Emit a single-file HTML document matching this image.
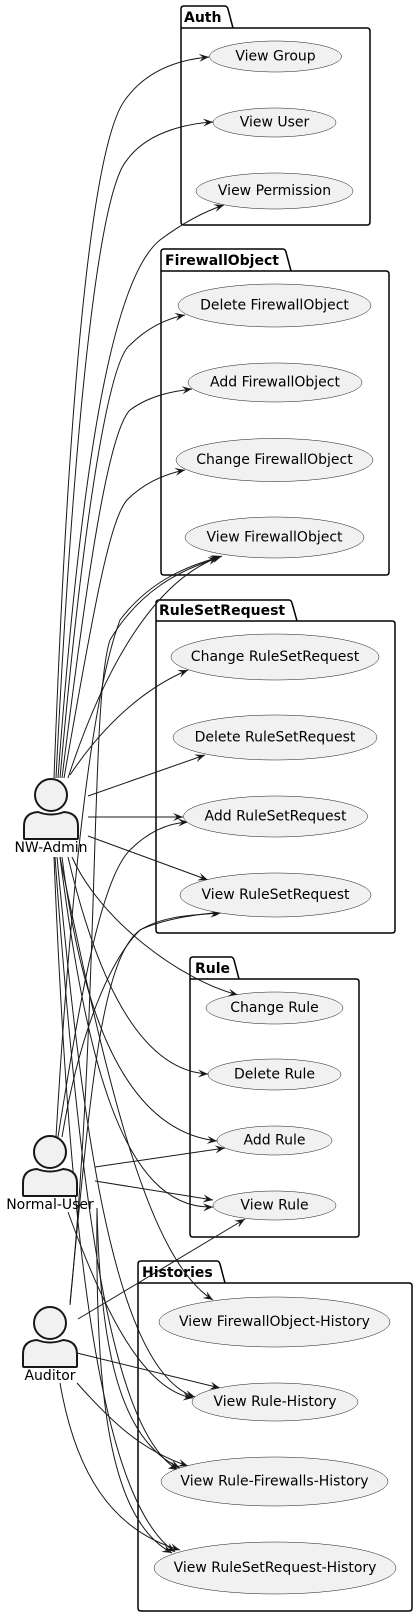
<!DOCTYPE html>
<html><head><meta charset="utf-8"><style>
html,body{margin:0;padding:0;background:#fff;}
svg{display:block;}
text{font-family:"DejaVu Sans","Liberation Sans",sans-serif;fill:#000;}
.uc{fill:#f1f1f1;stroke:#181818;stroke-width:0.5;}
.lbl{font-size:14px;text-anchor:middle;dominant-baseline:central;}
.pk{fill:none;stroke:#000;stroke-width:1.5;}
.pt{font-size:14px;font-weight:bold;}
.e{fill:none;stroke:#181818;stroke-width:1;marker-end:url(#a);}
.act{fill:#f1f1f1;stroke:#181818;stroke-width:2;}
.al{font-size:14px;text-anchor:middle;dominant-baseline:central;}
</style></head><body>
<svg width="418" height="1617" viewBox="0 0 418 1617" xmlns="http://www.w3.org/2000/svg">
<defs>
<marker id="a" markerUnits="userSpaceOnUse" markerWidth="12" markerHeight="10" refX="10" refY="4" orient="auto">
<path d="M0,0 L10,4 L0,8 L4,4 z" fill="#181818"/>
</marker>
</defs>

<g>
<path class="pk" d="M181,28 L181,9 Q181,6 184,6 L225,6 Q227,6 228,9 L233,28 M181,28 L367,28 Q370,28 370,31 L370,222 Q370,225 367,225 L184,225 Q181,225 181,222 Z"/>
<text class="pt" x="184" y="22">Auth</text>
<path class="pk" d="M161,271 L161,252 Q161,249 164,249 L283,249 Q285,249 286,252 L291,271 M161,271 L386,271 Q389,271 389,274 L389,572 Q389,575 386,575 L164,575 Q161,575 161,572 Z"/>
<text class="pt" x="165" y="265">FirewallObject</text>
<path class="pk" d="M156,621 L156,603 Q156,600 159,600 L289,600 Q291,600 292,603 L297,621 M156,621 L392,621 Q395,621 395,624 L395,930 Q395,933 392,933 L159,933 Q156,933 156,930 Z"/>
<text class="pt" x="159" y="615">RuleSetRequest</text>
<path class="pk" d="M190,979 L190,960 Q190,957 193,957 L231,957 Q233,957 234,960 L239,979 M190,979 L356,979 Q359,979 359,982 L359,1234 Q359,1237 356,1237 L193,1237 Q190,1237 190,1234 Z"/>
<text class="pt" x="195" y="973">Rule</text>
<path class="pk" d="M138,1283 L138,1264 Q138,1261 141,1261 L217,1261 Q219,1261 220,1264 L225,1283 M138,1283 L409,1283 Q412,1283 412,1286 L412,1608 Q412,1611 409,1611 L141,1611 Q138,1611 138,1608 Z"/>
<text class="pt" x="142" y="1277">Histories</text>
</g>

<g>
<path class="e" d="M54,778 C70,350 95,140 125,100 C145,72 175,60 209,57"/>
<path class="e" d="M56,778 C75,400 100,190 127,160 C145,135 180,124 213,122"/>
<path class="e" d="M58,778 C80,480 110,280 160,240 C180,225 200,213 224,205"/>
<path class="e" d="M60,778 C85,500 110,360 130,345 C150,325 170,318 185,315"/>
<path class="e" d="M62,778 C90,550 110,430 130,410 C150,395 175,391 192,389"/>
<path class="e" d="M64,778 C95,600 110,520 127,500 C145,482 165,474 185,470"/>
<path class="e" d="M68,778 C100,680 150,580 222,556"/>
<path class="e" d="M56,1137 C70,900 90,700 120,620 C150,580 190,565 220,557"/>
<path class="e" d="M70,1305 C100,1000 90,700 110,640 C140,590 180,570 218,558"/>
<path class="e" d="M70,775 C100,730 140,690 188,670"/>
<path class="e" d="M88,796 L205,755"/>
<path class="e" d="M88,817 L183,817"/>
<path class="e" d="M88,836 L208,880"/>
<path class="e" d="M58,1137 C80,1000 100,880 130,850 C150,830 170,823 188,822"/>
<path class="e" d="M62,1137 C80,1030 110,960 140,930 C165,915 195,915 220,913"/>
<path class="e" d="M70,1303 C90,1100 100,960 140,930 C165,918 200,914 223,912"/>
<path class="e" d="M72,857 C100,920 180,980 238,995"/>
<path class="e" d="M68,857 C90,950 130,1070 208,1074"/>
<path class="e" d="M62,857 C80,1000 120,1130 217,1141"/>
<path class="e" d="M60,857 C85,1050 120,1210 213,1207"/>
<path class="e" d="M60,857 C110,1100 150,1260 213,1300"/>
<path class="e" d="M57,857 C80,1100 110,1370 195,1397"/>
<path class="e" d="M55,857 C80,1200 110,1430 178,1470"/>
<path class="e" d="M54,857 C70,1250 100,1500 175,1552"/>
<path class="e" d="M95,1181 L213,1200"/>
<path class="e" d="M95,1167 L225,1148"/>
<path class="e" d="M68,1212 C100,1300 140,1390 193,1398"/>
<path class="e" d="M97,1208 C100,1350 120,1440 180,1468"/>
<path class="e" d="M97,1208 C95,1400 110,1520 172,1553"/>
<path class="e" d="M78,1319 L245,1219"/>
<path class="e" d="M77,1353 L220,1388"/>
<path class="e" d="M77,1383 C110,1420 140,1450 188,1466"/>
<path class="e" d="M60,1383 C75,1470 110,1530 180,1550"/>
</g>

<g>
<ellipse class="uc" cx="275.5" cy="56.5" rx="66" ry="15.5"/><text class="lbl" x="275.5" y="56.5">View Group</text>
<ellipse class="uc" cx="274.5" cy="122.5" rx="61.5" ry="14.5"/><text class="lbl" x="274.5" y="122.5">View User</text>
<ellipse class="uc" cx="274.5" cy="191" rx="78.5" ry="18"/><text class="lbl" x="274.5" y="191">View Permission</text>
<ellipse class="uc" cx="274.5" cy="305.5" rx="96.5" ry="21.5"/><text class="lbl" x="274.5" y="305.5">Delete FirewallObject</text>
<ellipse class="uc" cx="275" cy="382.5" rx="87" ry="19.5"/><text class="lbl" x="275" y="382.5">Add FirewallObject</text>
<ellipse class="uc" cx="274.5" cy="460" rx="98.5" ry="21.5"/><text class="lbl" x="274.5" y="460">Change FirewallObject</text>
<ellipse class="uc" cx="274.5" cy="537.5" rx="89.5" ry="20.5"/><text class="lbl" x="274.5" y="537.5">View FirewallObject</text>
<ellipse class="uc" cx="275" cy="657" rx="104" ry="23"/><text class="lbl" x="275" y="657">Change RuleSetRequest</text>
<ellipse class="uc" cx="275" cy="737.5" rx="102" ry="22.5"/><text class="lbl" x="275" y="737.5">Delete RuleSetRequest</text>
<ellipse class="uc" cx="275.5" cy="816.5" rx="92" ry="20.5"/><text class="lbl" x="275.5" y="816.5">Add RuleSetRequest</text>
<ellipse class="uc" cx="275.5" cy="895" rx="95.5" ry="22"/><text class="lbl" x="275.5" y="895">View RuleSetRequest</text>
<ellipse class="uc" cx="274.5" cy="1008" rx="68.5" ry="16"/><text class="lbl" x="274.5" y="1008">Change Rule</text>
<ellipse class="uc" cx="274.5" cy="1074.5" rx="66.5" ry="15.5"/><text class="lbl" x="274.5" y="1074.5">Delete Rule</text>
<ellipse class="uc" cx="274.5" cy="1140.5" rx="57.5" ry="14.5"/><text class="lbl" x="274.5" y="1140.5">Add Rule</text>
<ellipse class="uc" cx="274.5" cy="1205.5" rx="61.5" ry="14.5"/><text class="lbl" x="274.5" y="1205.5">View Rule</text>
<ellipse class="uc" cx="274.5" cy="1322" rx="115.5" ry="25"/><text class="lbl" x="274.5" y="1322">View FirewallObject-History</text>
<ellipse class="uc" cx="275" cy="1402" rx="83" ry="19"/><text class="lbl" x="275" y="1402">View Rule-History</text>
<ellipse class="uc" cx="274.5" cy="1481.5" rx="113.5" ry="24.5"/><text class="lbl" x="274.5" y="1481.5">View Rule-Firewalls-History</text>
<ellipse class="uc" cx="275" cy="1568" rx="121" ry="26"/><text class="lbl" x="275" y="1568">View RuleSetRequest-History</text>
</g>

<g transform="translate(51,795)">
<circle class="act" cx="0" cy="0" r="16"/>
<path class="act" d="M-27,43 L-27,31 Q-27,18 -13,17 Q0,22 13,17 Q27,18 27,31 L27,43 Q27,44 26,44 L-26,44 Q-27,44 -27,43 Z"/>
<text class="al" x="0" y="53">NW-Admin</text>
</g>
<g transform="translate(50,1152)">
<circle class="act" cx="0" cy="0" r="16"/>
<path class="act" d="M-27,43 L-27,31 Q-27,18 -13,17 Q0,22 13,17 Q27,18 27,31 L27,43 Q27,44 26,44 L-26,44 Q-27,44 -27,43 Z"/>
<text class="al" x="0" y="53">Normal-User</text>
</g>
<g transform="translate(50,1323)">
<circle class="act" cx="0" cy="0" r="16"/>
<path class="act" d="M-27,43 L-27,31 Q-27,18 -13,17 Q0,22 13,17 Q27,18 27,31 L27,43 Q27,44 26,44 L-26,44 Q-27,44 -27,43 Z"/>
<text class="al" x="0" y="53">Auditor</text>
</g>
</svg>
</body></html>
